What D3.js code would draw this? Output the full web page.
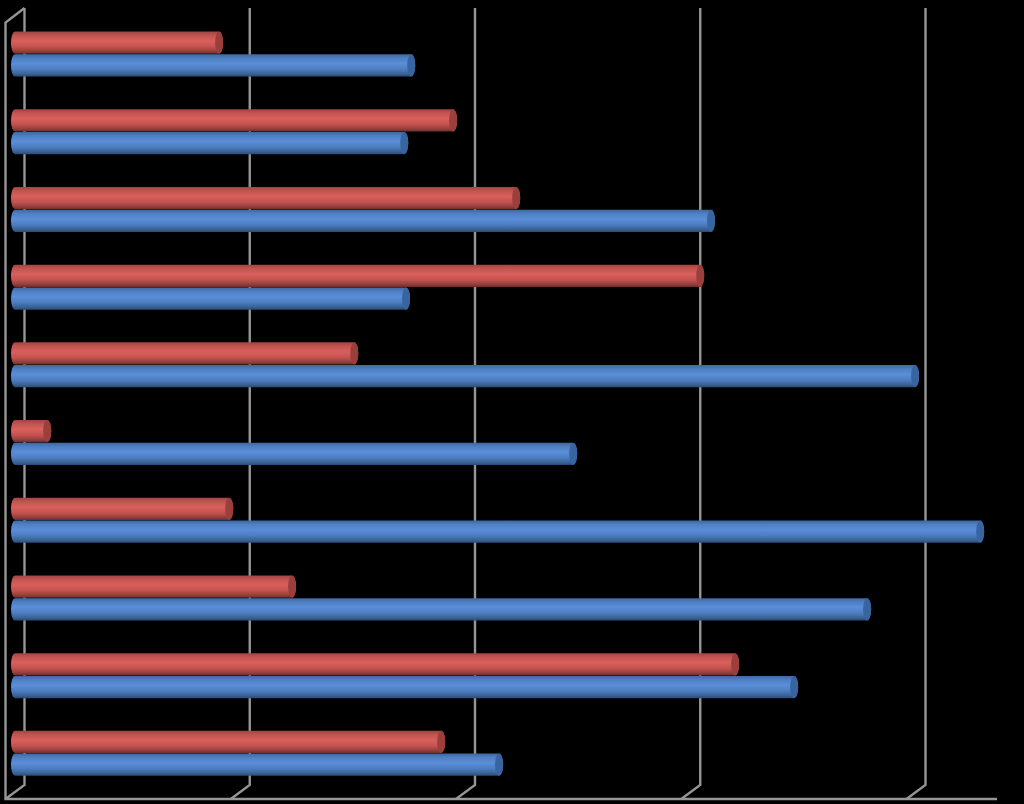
<!DOCTYPE html>
<html>
<head>
<meta charset="utf-8">
<script src="https://cdn.jsdelivr.net/npm/d3@7/dist/d3.min.js"></script>
<style>html,body{margin:0;padding:0;background:#000;overflow:hidden}svg{display:block}</style>
</head>
<body>
<svg id="chart" width="1024" height="804" role="img" aria-label="3D clustered horizontal cylinder bar chart"></svg>
<script>
const categories = ["1","2","3","4","5","6","7","8","9","10"];
const seriesNames = ["red","blue"];
const redValues  = [0.906,1.945,2.225,3.042,1.506,0.143,0.951,1.230,3.197,1.892];
const blueValues = [1.759,1.728,3.090,1.736,3.996,2.478,4.285,3.783,3.459,2.149];
const gridTicks  = [0,1,2,3,4];

const svg = d3.select("#chart");
const defs = svg.append("defs");
const gradStops = {
  red:  [[0,"#a04543"],[0.18,"#c35451"],[0.42,"#d9605c"],[0.68,"#c4524f"],[0.88,"#93403d"],[1,"#6e2d2b"]],
  blue: [[0,"#3e689f"],[0.18,"#4f80c4"],[0.42,"#5a8ed8"],[0.68,"#4c7dbf"],[0.88,"#3a6294"],[1,"#2b4a75"]]
};
seriesNames.forEach(s=>{
  const g = defs.append("linearGradient").attr("id","grad-"+s).attr("x1",0).attr("y1",0).attr("x2",0).attr("y2",1);
  gradStops[s].forEach(d=>g.append("stop").attr("offset",d[0]).attr("stop-color",d[1]));
});
const capFill = {red:"#9a3f3c", blue:"#38659f"};

const x = d3.scaleLinear().domain([0,4]).range([24.5,925.5]);
const y = d3.scaleBand().domain(categories).range([15.2,792.2]);
const inner = d3.scaleBand().domain(seriesNames).range([-22.5,22.5]).paddingInner(0.02);

// 3D frame
const frame = svg.append("g").attr("fill","none").attr("stroke","#969696").attr("stroke-width",2.4);
const wallTop = 8, wallBack = 785, floorY = 799, depthX = 19;
gridTicks.forEach(t=>{
  const px = x(t);
  frame.append("path").attr("d",`M${px},${wallTop}V${wallBack}L${px-depthX},${floorY}`);
});
frame.append("path").attr("d",`M${x(0)},${wallTop}L${x(0)-depthX},${wallTop+14.5}V${floorY}H997`);

// Bars: the cylinder sits mid-depth, so it is shifted left of the back wall
const shift = -9.5, rx = 4;
const data = categories.flatMap((c,i)=>[
  {c, s:"red",  v:redValues[i]},
  {c, s:"blue", v:blueValues[i]}
]);
const bars = svg.append("g").selectAll("g").data(data).join("g")
  .attr("transform",d=>`translate(${shift},${y(d.c)+y.bandwidth()/2+inner(d.s)})`);
bars.append("path")
  .attr("fill",d=>`url(#grad-${d.s})`)
  .attr("d",d=>{
    const h = inner.bandwidth(), x0 = x(0), x1 = x(d.v);
    return `M${x0},0L${x1},0A${rx},${h/2} 0 0 1 ${x1},${h}L${x0},${h}A${rx},${h/2} 0 0 1 ${x0},0Z`;
  });
bars.append("ellipse")
  .attr("fill",d=>capFill[d.s])
  .attr("cx",d=>x(d.v)).attr("cy",inner.bandwidth()/2)
  .attr("rx",rx).attr("ry",inner.bandwidth()/2);
</script>
</body>
</html>
